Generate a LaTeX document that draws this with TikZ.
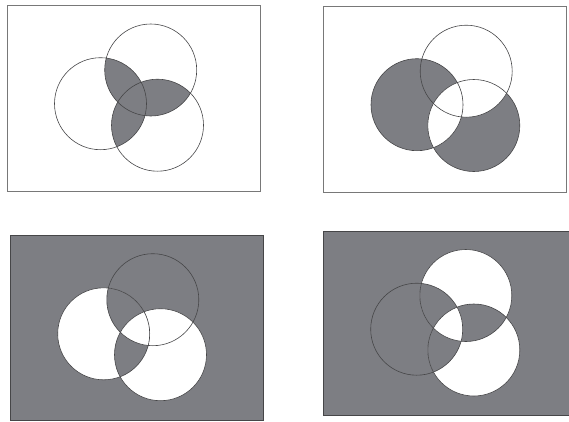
\documentclass[tikz,border=0pt]{standalone}
\definecolor{shade}{RGB}{125,126,131}
\definecolor{ringcol}{RGB}{70,70,72}
\definecolor{framecol}{RGB}{120,120,120}
\tikzset{
  ring/.style={draw=ringcol, line width=0.6pt},
  frame/.style={draw=framecol, line width=0.8pt},
  darkframe/.style={draw=ringcol, line width=0.8pt},
  grayfill/.style={fill=shade},
  whitefill/.style={fill=white}
}
\newcommand{\R}{46pt}
\begin{document}
\begin{tikzpicture}[x=1pt,y=-1pt]
\useasboundingbox (0,0) rectangle (569,421);
% ---------- coordinates
\coordinate (a1) at (150.7,70);  \coordinate (b1) at (100.5,103.7); \coordinate (c1) at (157.5,125.2);
\coordinate (a2) at (466.2,71.2); \coordinate (b2) at (417,104.7);  \coordinate (c2) at (473.8,125.5);
\coordinate (a3) at (152.8,299.7); \coordinate (b3) at (103.7,333.8); \coordinate (c3) at (160.5,354.7);
\coordinate (a4) at (465.8,295.5); \coordinate (b4) at (416.7,329.2); \coordinate (c4) at (473.8,350);
% ---------- panel 1
\path[frame] (7.3,5) rectangle (260.7,191.7);
\begin{scope}
  \clip (a1) circle[radius=\R];
  \fill[grayfill] (b1) circle[radius=\R];
  \fill[grayfill] (c1) circle[radius=\R];
\end{scope}
\begin{scope}
  \clip (b1) circle[radius=\R];
  \fill[grayfill] (c1) circle[radius=\R];
\end{scope}
\foreach \p in {a1,b1,c1} \draw[ring] (\p) circle[radius=\R];
% ---------- panel 2
\path[frame] (323.3,6.7) rectangle (566.7,192.7);
\fill[grayfill] (c2) circle[radius=\R];
\fill[whitefill] (a2) circle[radius=\R];
\fill[grayfill] (b2) circle[radius=\R];
\begin{scope}
  \clip (b2) circle[radius=\R];
  \fill[whitefill] (c2) circle[radius=\R];
\end{scope}
\foreach \p in {a2,b2,c2} \draw[ring] (\p) circle[radius=\R];
% ---------- panel 3
\path[grayfill, darkframe] (10,235) rectangle (263.3,420.5);
\fill[whitefill] (b3) circle[radius=\R];
\fill[whitefill] (c3) circle[radius=\R];
\begin{scope}
  \clip (a3) circle[radius=\R];
  \fill[grayfill] (b3) circle[radius=\R];
\end{scope}
\begin{scope}
  \clip (b3) circle[radius=\R];
  \fill[grayfill] (c3) circle[radius=\R];
\end{scope}
\begin{scope}
  \clip (a3) circle[radius=\R];
  \clip (b3) circle[radius=\R];
  \fill[whitefill] (c3) circle[radius=\R];
\end{scope}
\foreach \p in {a3,b3,c3} \draw[ring] (\p) circle[radius=\R];
% ---------- panel 4
\path[grayfill, darkframe] (323.3,231) rectangle (569.5,415);
\fill[whitefill] (a4) circle[radius=\R];
\fill[whitefill] (c4) circle[radius=\R];
\begin{scope}
  \clip (a4) circle[radius=\R];
  \fill[grayfill] (b4) circle[radius=\R];
  \fill[grayfill] (c4) circle[radius=\R];
\end{scope}
\begin{scope}
  \clip (b4) circle[radius=\R];
  \fill[grayfill] (c4) circle[radius=\R];
\end{scope}
\begin{scope}
  \clip (a4) circle[radius=\R];
  \clip (b4) circle[radius=\R];
  \fill[whitefill] (c4) circle[radius=\R];
\end{scope}
\foreach \p in {a4,b4,c4} \draw[ring] (\p) circle[radius=\R];
\end{tikzpicture}
\end{document}
